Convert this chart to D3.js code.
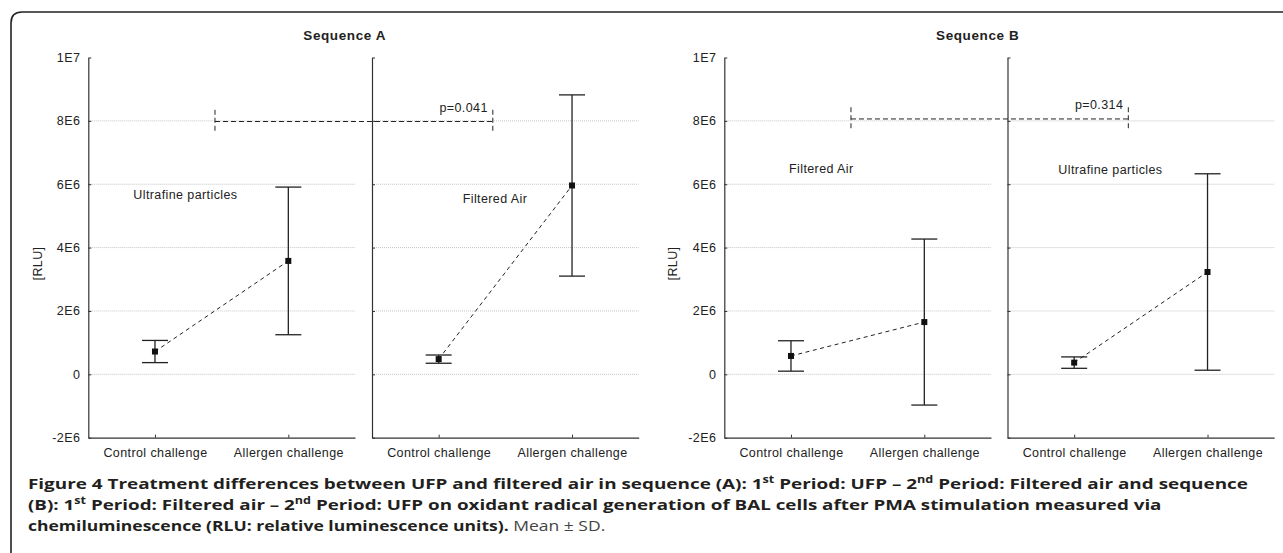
<!DOCTYPE html>
<html>
<head>
<meta charset="utf-8">
<script src="https://cdn.jsdelivr.net/npm/d3@7"></script>
<style>
  body { margin: 0; background: #fff; }
  svg { display: block; }
</style>
</head>
<body>
<div id="chart"></div>
<script>
// values (RLU)
const categories = ["Control challenge", "Allergen challenge"]
const yTickValues = [-2e6, 0, 2e6, 4e6, 6e6, 8e6, 1e7]
const yTickLabels = ["-2E6", "0", "2E6", "4E6", "6E6", "8E6", "1E7"]
const gridValues = [0, 2e6, 4e6, 6e6, 8e6]
const sequenceTitles = ["Sequence A", "Sequence B"]
const panelLabels = ["Ultrafine particles", "Filtered Air", "Filtered Air", "Ultrafine particles"]
const seqAUfpMean = [0.72e6, 3.58e6]
const seqAUfpSd = [0.35e6, 2.33e6]
const seqAFaMean = [0.48e6, 5.96e6]
const seqAFaSd = [0.13e6, 2.86e6]
const seqBFaMean = [0.58e6, 1.65e6]
const seqBFaSd = [0.48e6, 2.62e6]
const seqBUfpMean = [0.37e6, 3.23e6]
const seqBUfpSd = [0.18e6, 3.1e6]
const pLabels = ["p=0.041", "p=0.314"]
const pLevels = [7.98e6, 8.06e6]

const panelMeans = [seqAUfpMean, seqAFaMean, seqBFaMean, seqBUfpMean]
const panelSds = [seqAUfpSd, seqAFaSd, seqBFaSd, seqBUfpSd]

let width = 1283
let height = 553

// layout
let panelX = [88.3, 372, 724.3, 1007.5]
let panelW = 266.7
let labelPos = [[45, 199], [90.7, 202.5], [64.7, 173], [50.8, 173.5]]
let titleX = [344.7, 977.7]
let rluX = [37.5, 672.5]

let svg = d3.select("#chart")
  .append("svg")
  .attr("width", width)
  .attr("height", height)
  .style("font-family", "'Liberation Sans', Arial, sans-serif")

// outer frame (open to the right and bottom)
svg.append("path")
  .attr("d", "M11,600 L11,23 Q11,12 22,12 L1300,12")
  .attr("fill", "none")
  .attr("stroke", "#222")
  .attr("stroke-width", 1.6)

let y = d3.scaleLinear()
  .domain([-2e6, 1e7])
  .range([437.7, 57.5])

panelMeans.forEach(function (means, i) {
  let x0 = panelX[i]
  let x = d3.scalePoint()
    .domain(categories)
    .range([x0, x0 + panelW])
    .padding(0.5)

  let g = svg.append("g")

  // grid
  g.append("g")
    .selectAll("line")
    .data(gridValues)
    .enter().append("line")
      .attr("x1", x0)
      .attr("x2", x0 + panelW)
      .attr("y1", d => y(d))
      .attr("y2", d => y(d))
      .attr("stroke", "#c4c4c4")
      .attr("stroke-width", 1)
      .attr("stroke-dasharray", "1,1")

  let yAxis = d3.axisLeft(y)
    .tickValues(yTickValues)
    .tickSize(-3)
    .tickSizeOuter(0)
    .tickPadding(8)
    .tickFormat((d, k) => i % 2 == 0 ? yTickLabels[k] : "")

  g.append("g")
    .attr("transform", `translate(${x0},0)`)
    .call(yAxis)
    .call(a => a.select(".domain").attr("stroke", "#333").attr("stroke-width", 1.2))
    .call(a => a.selectAll(".tick line").attr("stroke", "#333"))
    .call(a => a.selectAll("text").attr("fill", "#222").style("font-size", "12.5px").style("letter-spacing", "0.4px"))

  let xAxis = d3.axisBottom(x)
    .tickSize(-3)
    .tickSizeOuter(0)
    .tickPadding(10)

  g.append("g")
    .attr("transform", `translate(0,${y(-2e6)})`)
    .call(xAxis)
    .call(a => a.select(".domain").attr("stroke", "#333").attr("stroke-width", 1.2))
    .call(a => a.selectAll(".tick line").attr("stroke", "#333"))
    .call(a => a.selectAll("text").attr("fill", "#222").style("font-size", "12.5px").style("letter-spacing", "0.4px"))

  let pts = categories.map((c, k) => ({ cat: c, mean: means[k], sd: panelSds[i][k] }))

  // dashed line between the means
  g.append("path")
    .datum(pts)
    .attr("fill", "none")
    .attr("stroke", "#222")
    .attr("stroke-width", 1)
    .attr("stroke-dasharray", "4,3.5")
    .attr("d", d3.line().x(d => x(d.cat)).y(d => y(d.mean)))

  // error bars
  let eb = g.append("g")
    .attr("stroke", "#222")
    .attr("stroke-width", 1.3)
    .selectAll("g")
    .data(pts)
    .enter().append("g")

  eb.append("line")
    .attr("x1", d => x(d.cat))
    .attr("x2", d => x(d.cat))
    .attr("y1", d => y(d.mean + d.sd))
    .attr("y2", d => y(d.mean - d.sd))
  eb.append("line")
    .attr("x1", d => x(d.cat) - 13)
    .attr("x2", d => x(d.cat) + 13)
    .attr("y1", d => y(d.mean + d.sd))
    .attr("y2", d => y(d.mean + d.sd))
  eb.append("line")
    .attr("x1", d => x(d.cat) - 13)
    .attr("x2", d => x(d.cat) + 13)
    .attr("y1", d => y(d.mean - d.sd))
    .attr("y2", d => y(d.mean - d.sd))

  g.append("g")
    .selectAll("rect")
    .data(pts)
    .enter().append("rect")
      .attr("x", d => x(d.cat) - 3)
      .attr("y", d => y(d.mean) - 3)
      .attr("width", 6)
      .attr("height", 6)
      .attr("fill", "#111")

  g.append("text")
    .attr("x", x0 + labelPos[i][0])
    .attr("y", labelPos[i][1])
    .attr("fill", "#222")
    .style("font-size", "12.5px")
    .style("letter-spacing", "0.4px")
    .text(panelLabels[i])
})

// titles, y labels, p brackets
sequenceTitles.forEach(function (t, s) {
  svg.append("text")
    .attr("x", titleX[s])
    .attr("y", 40.3)
    .attr("text-anchor", "middle")
    .attr("fill", "#222")
    .style("font-size", "13.5px")
    .style("font-weight", "bold")
    .style("letter-spacing", "0.6px")
    .text(t)

  svg.append("text")
    .attr("transform", `translate(${rluX[s]},263.5) rotate(-90)`)
    .attr("text-anchor", "middle")
    .attr("dy", "0.35em")
    .attr("fill", "#222")
    .style("font-size", "12.5px")
    .style("letter-spacing", "0.4px")
    .text("[RLU]")

  let xl = panelX[2 * s] + 0.475 * panelW
  let xr = panelX[2 * s + 1] + 0.453 * panelW
  let lvl = pLevels[s]
  let br = svg.append("g")
    .attr("stroke", "#222")
    .attr("stroke-width", 1)
    .attr("fill", "none")
  br.append("line")
    .attr("x1", xl).attr("x2", xr)
    .attr("y1", y(lvl)).attr("y2", y(lvl))
    .attr("stroke-dasharray", "5,3")
  ;[xl, xr].forEach(function (bx) {
    br.append("line")
      .attr("x1", bx).attr("x2", bx)
      .attr("y1", y(lvl + 0.37e6)).attr("y2", y(lvl - 0.37e6))
      .attr("stroke-dasharray", "5,3")
  })
  svg.append("text")
    .attr("x", xr - 5)
    .attr("y", y(lvl) - 10)
    .attr("text-anchor", "end")
    .attr("fill", "#222")
    .style("font-size", "12.5px")
    .style("letter-spacing", "0.4px")
    .text(pLabels[s])
})

// caption
let cap = svg.append("g")
  .style("font-family", "'Open Sans', 'Noto Sans', sans-serif")
  .style("font-size", "15px")
  .attr("fill", "#231f20")

function sup(t, txt) {
  t.append("tspan").attr("baseline-shift", "super").style("font-size", "10px").text(txt)
}

let l1 = cap.append("text").attr("x", 28).attr("y", 489).style("font-weight", "bold")
l1.append("tspan").text("Figure 4 Treatment differences between UFP and filtered air in sequence (A): 1")
sup(l1, "st")
l1.append("tspan").text(" Period: UFP \u2013 2")
sup(l1, "nd")
l1.append("tspan").text(" Period: Filtered air and sequence")

let l2 = cap.append("text").attr("x", 28).attr("y", 510).style("font-weight", "bold")
l2.append("tspan").text("(B): 1")
sup(l2, "st")
l2.append("tspan").text(" Period: Filtered air \u2013 2")
sup(l2, "nd")
l2.append("tspan").text(" Period: UFP on oxidant radical generation of BAL cells after PMA stimulation measured via")

let l3 = cap.append("text").attr("x", 28).attr("y", 531)
l3.append("tspan").style("font-weight", "bold").text("chemiluminescence (RLU: relative luminescence units).")
l3.append("tspan").style("font-weight", "normal").attr("fill", "#444").text(" Mean \u00b1 SD.")

// squeeze caption lines to the widths in the figure
let lineEnds = [1249, 1162, 606]
;[l1, l2, l3].forEach(function (t, j) {
  let k = (lineEnds[j] - 28) / t.node().getComputedTextLength()
  t.attr("transform", `translate(28,0) scale(${k},1) translate(-28,0)`)
})
</script>
</body>
</html>
